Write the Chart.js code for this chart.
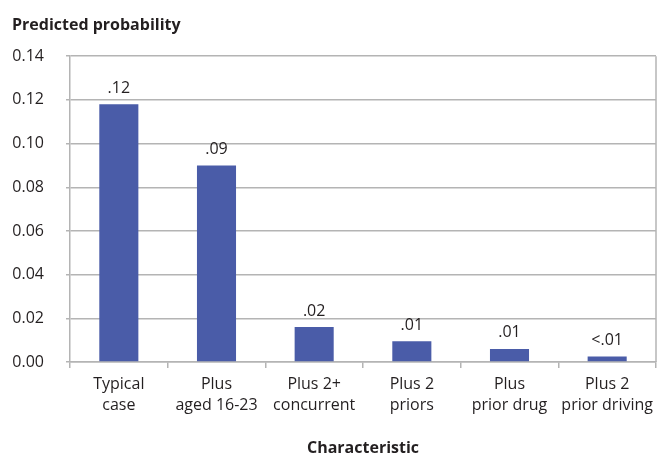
<!DOCTYPE html>
<html>
<head>
<meta charset="utf-8">
<script src="https://cdn.jsdelivr.net/npm/chart.js@4.4.0/dist/chart.umd.min.js"></script>
<style>
  html, body { margin: 0; padding: 0; background: #fff; }
  #wrap { width: 661px; height: 454px; position: relative; }
</style>
</head>
<body>
<div id="wrap"><canvas id="myChart"></canvas></div>
<script>
'use strict';

// categories (two-line labels)
const categories = [
    ['Typical', 'case'],
    ['Plus', 'aged 16-23'],
    ['Plus 2+', 'concurrent'],
    ['Plus 2', 'priors'],
    ['Plus', 'prior drug'],
    ['Plus 2', 'prior driving']
];
// predicted probabilities
const probabilities = [0.118, 0.090, 0.016, 0.0095, 0.006, 0.0025];
// printed labels above the bars
const valueLabels = ['.12', '.09', '.02', '.01', '.01', '<.01'];
// y ticks
const yTicks = [0, 0.02, 0.04, 0.06, 0.08, 0.10, 0.12, 0.14];

const textColor = '#231f20';
const gridColor = '#b4b4b4';
const fontFamily = '"Open Sans", "Noto Sans", sans-serif';

// draws the value above each bar and the right frame line
const barLabels = {
    id: 'barLabels',
    afterDatasetsDraw(chart) {
        const ctx = chart.ctx;
        const meta = chart.getDatasetMeta(0);
        ctx.save();
        ctx.font = '16px ' + fontFamily;
        ctx.fillStyle = textColor;
        ctx.textAlign = 'center';
        ctx.textBaseline = 'bottom';
        meta.data.forEach((bar, i) => {
            ctx.fillText(valueLabels[i], bar.x, bar.y - 8);
        });
        // right border of plot area
        const area = chart.chartArea;
        ctx.strokeStyle = gridColor;
        ctx.lineWidth = 1.5;
        ctx.beginPath();
        ctx.moveTo(area.right, area.top);
        ctx.lineTo(area.right, area.bottom);
        ctx.stroke();
        ctx.restore();
    }
};

new Chart('myChart', {
    type: 'bar',
    data: {
        labels: categories,
        datasets: [{
            data: probabilities,
            backgroundColor: '#4a5ca8',
            barPercentage: 0.4,
            categoryPercentage: 1.0
        }]
    },
    options: {
        responsive: true,
        maintainAspectRatio: false,
        animation: false,
        layout: { padding: { left: 12, right: 5, top: 8, bottom: 0 } },
        plugins: {
            legend: { display: false },
            tooltip: { enabled: false },
            title: {
                display: true,
                text: 'Predicted probability',
                align: 'start',
                color: textColor,
                font: { family: fontFamily, size: 16, weight: 'bold' },
                padding: { top: 8, bottom: 21 }
            }
        },
        scales: {
            x: {
                afterFit(axis) { axis.height = 92; },
                grid: {
                    display: true,
                    drawOnChartArea: false,
                    drawTicks: true,
                    tickLength: 6,
                    color: gridColor,
                    lineWidth: 1.5
                },
                border: { color: gridColor, width: 1.5 },
                ticks: {
                    color: textColor,
                    font: { family: fontFamily, size: 16, lineHeight: 1.3 },
                    padding: 6,
                    maxRotation: 0,
                    autoSkip: false
                },
                title: {
                    display: true,
                    text: 'Characteristic',
                    color: textColor,
                    font: { family: fontFamily, size: 16, weight: 'bold', lineHeight: 0.7 },
                    padding: { top: 16, bottom: 0 }
                }
            },
            y: {
                min: 0,
                max: 0.14,
                afterFit(axis) { axis.width = 58; },
                afterBuildTicks(axis) {
                    axis.ticks = yTicks.map(v => ({ value: v }));
                },
                grid: {
                    color: gridColor,
                    lineWidth: 1.5,
                    tickLength: 4
                },
                border: { color: gridColor, width: 1.5 },
                ticks: {
                    color: textColor,
                    font: { family: fontFamily, size: 16 },
                    padding: 22,
                    callback: v => Number(v).toFixed(2)
                }
            }
        }
    },
    plugins: [barLabels]
});
</script>
</body>
</html>
